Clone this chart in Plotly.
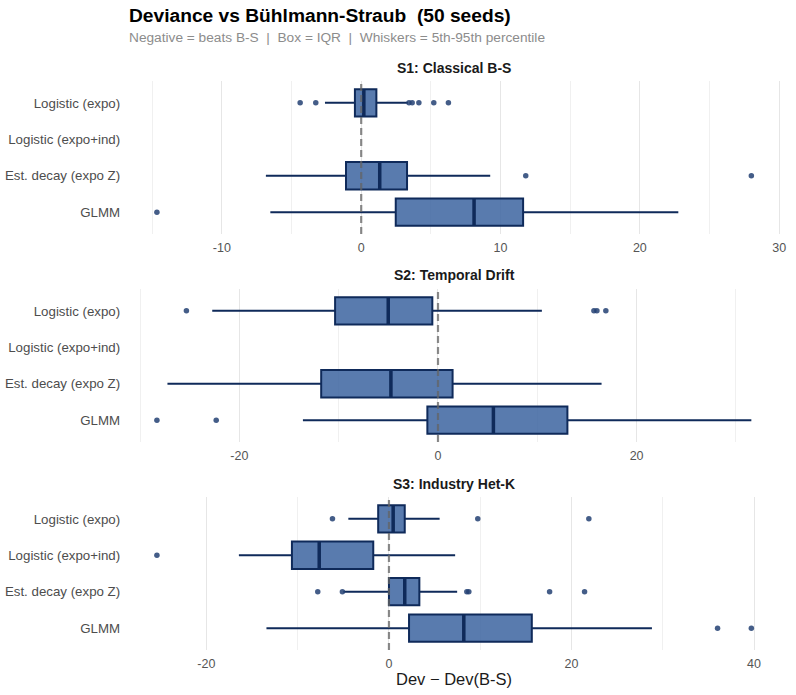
import plotly.graph_objects as go

W, H = 796, 695

categories = ["Logistic (expo)", "Logistic (expo+ind)", "Est. decay (expo Z)", "GLMM"]
scenarios = ["S1: Classical B-S", "S2: Temporal Drift", "S3: Industry Het-K"]

# per scenario, per category (None = model not fitted)
q1 = [
    [-0.45, None, -1.09, 2.48],
    [-10.36, None, -11.76, -1.07],
    [-1.18, -10.63, 0.0, 2.2],
]
median = [
    [0.19, None, 1.33, 8.1],
    [-5.01, None, -4.74, 5.58],
    [0.46, -7.64, 1.73, 8.2],
]
q3 = [
    [1.09, None, 3.29, 11.62],
    [-0.57, None, 1.47, 13.03],
    [1.73, -1.72, 3.33, 15.65],
]
p05 = [
    [-2.6, None, -6.84, -6.52],
    [-22.73, None, -27.24, -13.6],
    [-4.45, -16.44, -5.0, -13.42],
]
p95 = [
    [3.36, None, 9.26, 22.76],
    [10.46, None, 16.47, 31.55],
    [5.55, 7.25, 7.47, 28.81],
]
outliers = [
    [[-4.38, -3.26, 3.43, 3.66, 4.14, 5.21, 6.26], [], [11.81, 28.0], [-14.66]],
    [[-25.33, 15.7, 16.0, 16.9], [], [], [-28.3, -22.33]],
    [[-6.19, 9.73, 21.9], [-25.42], [-7.8, -5.1, 8.53, 8.75, 17.6, 21.43], [36.0, 39.7]],
]
major_ticks = [[-10, 0, 10, 20, 30], [-20, 0, 20], [-20, 0, 20, 40]]
minor_ticks = [[-15, -5, 5, 15, 25], [-30, -10, 10, 30], [-10, 10, 30]]

FILL = "rgba(60,100,160,0.85)"
EDGE = "#0f2a5a"
PT = "rgba(35,65,115,0.85)"

# pixel layout of panels (top, bottom)
panels_px = [(81, 234), (289, 442), (497, 650)]
x0px, x1px = 128, 786
xdom = [x0px / W, x1px / W]
BW = 0.75

fig = go.Figure()
layout = dict()
for s in range(3):
    xa = "x" if s == 0 else f"x{s+1}"
    ya = "y" if s == 0 else f"y{s+1}"
    allv = []
    for c in range(4):
        if q1[s][c] is None:
            continue
        allv += [p05[s][c], p95[s][c]] + outliers[s][c]
        fig.add_trace(go.Box(
            y=[c], q1=[q1[s][c]], median=[median[s][c]], q3=[q3[s][c]],
            lowerfence=[p05[s][c]], upperfence=[p95[s][c]],
            orientation="h", width=BW, whiskerwidth=0,
            fillcolor=FILL, line=dict(color=EDGE, width=2),
            boxpoints=False, showlegend=False, hoverinfo="skip",
            xaxis=xa, yaxis=ya,
        ))
        # thick median
        fig.add_trace(go.Scatter(
            x=[median[s][c], median[s][c]], y=[c - BW / 2, c + BW / 2],
            mode="lines", line=dict(color=EDGE, width=3.5),
            showlegend=False, hoverinfo="skip", xaxis=xa, yaxis=ya,
        ))
        if outliers[s][c]:
            fig.add_trace(go.Scatter(
                x=outliers[s][c], y=[c] * len(outliers[s][c]),
                mode="markers", marker=dict(color=PT, size=5.5),
                showlegend=False, hoverinfo="skip", xaxis=xa, yaxis=ya,
            ))
    lo, hi = min(allv), max(allv)
    pad = 0.05 * (hi - lo)
    top, bot = panels_px[s]
    ydom = [1 - bot / H, 1 - top / H]
    layout["xaxis" if s == 0 else f"xaxis{s+1}"] = dict(
        domain=xdom, anchor=ya, range=[lo - pad, hi + pad],
        tickvals=major_ticks[s], ticktext=[str(v) for v in major_ticks[s]],
        showgrid=True, gridcolor="#e6e6e6", gridwidth=1.2,
        minor=dict(tickvals=minor_ticks[s], showgrid=True, gridcolor="#f0f0f0", gridwidth=1),
        zeroline=False, showline=False, ticks="",
        tickfont=dict(size=12.5, color="#555555", family="Liberation Sans"),
        ticklabelstandoff=4,
    )
    layout["yaxis" if s == 0 else f"yaxis{s+1}"] = dict(
        domain=ydom, anchor=xa, range=[3.6, -0.6],
        tickvals=[0, 1, 2, 3], ticktext=categories,
        showgrid=False, zeroline=False, showline=False, ticks="",
        tickfont=dict(size=13.3, color="#4d4d4d", family="Liberation Sans"),
        ticklabelstandoff=6,
    )
    # zero reference line
    fig.add_shape(type="line", xref=xa, yref=f"{ya} domain", x0=0, x1=0, y0=0, y1=1,
                  line=dict(color="rgba(100,100,100,0.75)", width=2.2, dash="7px,4px"), layer="above")

annotations = []
title_y = [68, 275, 484]
for s in range(3):
    annotations.append(dict(
        text=f"<b>{scenarios[s]}</b>", x=(x0px + x1px) / 2 / W, y=1 - title_y[s] / H,
        xref="paper", yref="paper", showarrow=False, xanchor="center", yanchor="middle",
        font=dict(size=14, color="#1a1a1a", family="Liberation Sans"),
    ))
annotations.append(dict(
    text="<b>Deviance vs Bühlmann-Straub  (50 seeds)</b>", x=x0px / W, y=1 - 16 / H,
    xref="paper", yref="paper", showarrow=False, xanchor="left", yanchor="middle",
    font=dict(size=19.2, color="#000000", family="Liberation Sans"),
))
annotations.append(dict(
    text="Negative = beats B-S  |  Box = IQR  |  Whiskers = 5th-95th percentile",
    x=x0px / W, y=1 - 38 / H,
    xref="paper", yref="paper", showarrow=False, xanchor="left", yanchor="middle",
    font=dict(size=13.7, color="#8c8c8c", family="Liberation Sans"),
))
annotations.append(dict(
    text="Dev − Dev(B-S)", x=(x0px + x1px) / 2 / W, y=1 - 679 / H,
    xref="paper", yref="paper", showarrow=False, xanchor="center", yanchor="middle",
    font=dict(size=16.5, color="#1a1a1a", family="Liberation Sans"),
))

fig.update_layout(
    width=W, height=H, margin=dict(l=0, r=0, t=0, b=0),
    paper_bgcolor="white", plot_bgcolor="white",
    annotations=annotations, **layout,
)
fig.write_html("out.html")
